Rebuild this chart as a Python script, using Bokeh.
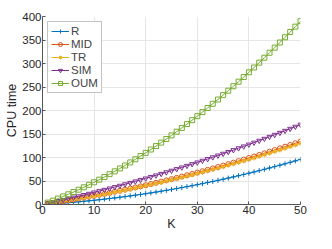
from bokeh.plotting import figure
from bokeh.models import ColumnDataSource, Legend, LegendItem, Range1d, FixedTicker
from bokeh.embed import file_html
from bokeh.resources import INLINE

K = list(range(1, 51))

R = [0.67, 1.38, 2.15, 2.97, 3.84, 4.76, 5.73, 6.76, 7.83, 8.96,
     10.14, 11.37, 12.65, 13.98, 15.36, 16.79, 18.28, 19.81, 21.40, 23.04,
     24.73, 26.47, 28.26, 30.11, 32.00, 33.95, 35.94, 37.99, 40.09, 42.24,
     44.44, 46.69, 49.00, 51.35, 53.76, 56.22, 58.73, 61.29, 63.90, 66.56,
     69.27, 72.04, 74.85, 77.72, 80.64, 83.61, 86.63, 89.70, 92.82, 96.00]

MID = [1.66, 3.36, 5.11, 6.89, 8.72, 10.59, 12.50, 14.45, 16.44, 18.48,
       20.56, 22.68, 24.84, 27.04, 29.28, 31.56, 33.89, 36.26, 38.67, 41.12,
       43.61, 46.15, 48.72, 51.34, 54.00, 56.70, 59.44, 62.23, 65.05, 67.92,
       70.83, 73.78, 76.77, 79.80, 82.88, 86.00, 89.16, 92.36, 95.60, 98.88,
       102.20, 105.57, 108.98, 112.43, 115.92, 119.45, 123.03, 126.65, 130.30, 134.00]

TR = [1.61, 3.26, 4.96, 6.68, 8.46, 10.27, 12.13, 14.02, 15.95, 17.93,
      19.94, 22.00, 24.09, 26.23, 28.40, 30.61, 32.87, 35.17, 37.51, 39.89,
      42.30, 44.77, 47.26, 49.80, 52.38, 55.00, 57.66, 60.36, 63.10, 65.88,
      68.71, 71.57, 74.47, 77.41, 80.39, 83.42, 86.49, 89.59, 92.73, 95.91,
      99.13, 102.40, 105.71, 109.06, 112.44, 115.87, 119.34, 122.85, 126.39, 129.98]

SIM = [2.38, 4.80, 7.27, 9.77, 12.32, 14.91, 17.54, 20.21, 22.92, 25.68,
       28.48, 31.32, 34.20, 37.12, 40.08, 43.08, 46.13, 49.22, 52.35, 55.52,
       58.73, 61.99, 65.28, 68.62, 72.00, 75.42, 78.88, 82.39, 85.93, 89.52,
       93.15, 96.82, 100.53, 104.28, 108.08, 111.92, 115.80, 119.72, 123.68, 127.68,
       131.72, 135.81, 139.94, 144.11, 148.32, 152.57, 156.87, 161.21, 165.58, 170.00]

OUM = [4.04, 8.20, 12.60, 17.10, 21.70, 26.50, 31.50, 36.60, 41.90, 47.30,
       52.90, 58.60, 64.50, 70.50, 76.70, 83.00, 89.50, 96.20, 103.00, 109.90,
       117.00, 124.30, 131.70, 139.30, 147.00, 154.90, 162.90, 171.10, 179.40, 187.90,
       196.60, 205.40, 214.30, 223.40, 232.70, 242.10, 251.70, 261.40, 271.30, 281.30,
       291.50, 301.80, 312.30, 322.90, 333.70, 344.70, 355.80, 367.00, 378.40, 390.00]

series_names = ["R", "MID", "TR", "SIM", "OUM"]
series_data = [R, MID, TR, SIM, OUM]
colors = ["#0072BD", "#D95319", "#EDB120", "#7E2F8E", "#77AC30"]
markers = ["cross", "circle", "asterisk", "inverted_triangle", "square"]
x_ticks = [0, 10, 20, 30, 40, 50]
y_ticks = [0, 50, 100, 150, 200, 250, 300, 350, 400]

FONT = "Liberation Sans"

p = figure(width=316, height=233, output_backend="svg", toolbar_location=None,
           x_range=Range1d(0, 50), y_range=Range1d(0, 400),
           min_border_left=42, min_border_right=16, min_border_top=16, min_border_bottom=5)
p.outline_line_color = None
p.background_fill_color = "white"

items = []
for name, ys, c, m in zip(series_names, series_data, colors, markers):
    src = ColumnDataSource(dict(x=K, y=ys))
    ln = p.line("x", "y", source=src, line_color=c, line_width=1)
    sc = p.scatter("x", "y", source=src, marker=m, size=5, line_color=c,
                   fill_color=None, line_width=1)
    items.append(LegendItem(label=name, renderers=[ln, sc]))

legend = Legend(items=items, location="top_left")
legend.label_text_font = FONT
legend.label_text_font_size = "11.5px"
legend.label_height = 10
legend.glyph_height = 10
legend.glyph_width = 18
legend.spacing = 1
legend.padding = 3
legend.margin = 5
legend.label_standoff = 2
legend.border_line_color = "#888888"
legend.border_line_width = 1
legend.background_fill_alpha = 1
p.add_layout(legend)

for ax in (p.xaxis[0], p.yaxis[0]):
    ax.major_label_text_font = FONT
    ax.major_label_text_font_size = "11.5px"
    ax.major_label_text_color = "#262626"
    ax.axis_label_text_font = FONT
    ax.axis_label_text_font_size = "12.5px"
    ax.axis_label_text_font_style = "normal"
    ax.axis_label_text_color = "#262626"
    ax.axis_line_color = "#555555"
    ax.major_tick_line_color = "#555555"
    ax.major_tick_in = 3
    ax.major_tick_out = 0
    ax.minor_tick_line_color = None
    ax.major_label_standoff = 1
    ax.axis_label_standoff = 0

p.xaxis.ticker = FixedTicker(ticks=x_ticks)
p.yaxis.ticker = FixedTicker(ticks=y_ticks)
p.xaxis.axis_label = "K"
p.yaxis.axis_label = "CPU time"

p.grid.grid_line_color = "#e6e6e6"
p.grid.grid_line_width = 1

open("out.html", "w").write(file_html(p, INLINE))
